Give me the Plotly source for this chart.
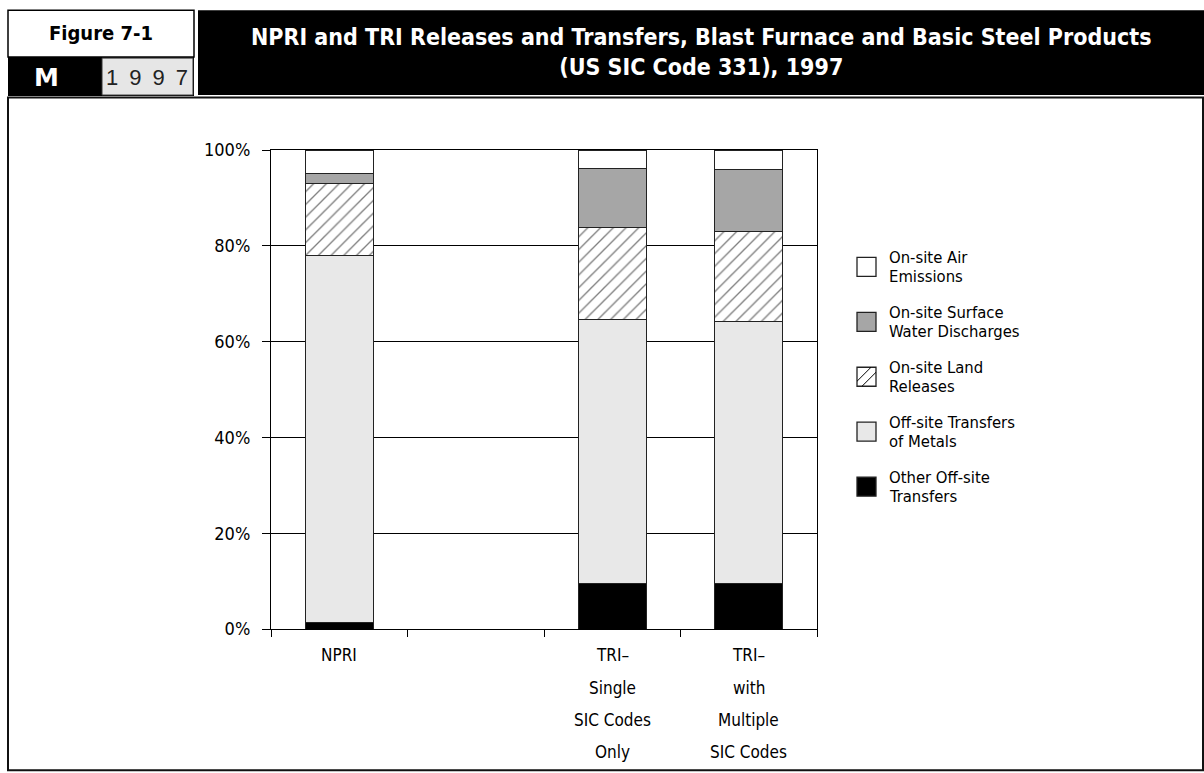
import plotly.graph_objects as go

# ---- data -------------------------------------------------------------
categories = ["NPRI", " ", "TRI-single", "TRI-multiple"]
category_lines = [
    ["NPRI"],
    [],
    ["TRI–", "Single", "SIC Codes", "Only"],
    ["TRI–", "with", "Multiple", "SIC Codes"],
]

# percentage of total releases and transfers, stacked bottom to top
other_offsite = [1.4, None, 9.4, 9.6]
metals_offsite = [76.5, None, 55.3, 54.6]
land_onsite = [15.2, None, 19.2, 18.7]
water_onsite = [2.0, None, 12.3, 13.1]
air_onsite = [4.9, None, 3.8, 4.0]

series_names = [
    "Other Off-site Transfers",
    "Off-site Transfers of Metals",
    "On-site Land Releases",
    "On-site Surface Water Discharges",
    "On-site Air Emissions",
]
legend_lines = [
    ["Other Off-site", "Transfers"],
    ["Off-site Transfers", "of Metals"],
    ["On-site Land", "Releases"],
    ["On-site Surface", "Water Discharges"],
    ["On-site Air", "Emissions"],
]
series_values = [other_offsite, metals_offsite, land_onsite, water_onsite, air_onsite]
series_colors = ["#000000", "#e8e8e8", "#ffffff", "#a6a6a6", "#ffffff"]
series_hatch = [False, False, True, False, False]

y_ticks = [0, 20, 40, 60, 80, 100]
y_tick_labels = ["0%", "20%", "40%", "60%", "80%", "100%"]

# ---- geometry helpers (pixel -> paper) --------------------------------
W, H = 1204, 773
PX_L, PX_R = 271, 817
PY_T, PY_B = 150, 629.5


def px(x):
    return (x - PX_L) / (PX_R - PX_L)


def py(y):
    return (PY_B - y) / (PY_B - PY_T)


NARROW = "DejaVu Sans Condensed, Roboto, sans-serif"

fig = go.Figure()
for name, vals, col, hatch in zip(series_names, series_values, series_colors, series_hatch):
    marker = dict(color=col, line=dict(color="#222222", width=1))
    if hatch:
        marker["pattern"] = dict(shape="/", fgcolor="#000000", bgcolor="#ffffff",
                                 size=9, solidity=0.15)
    fig.add_trace(go.Bar(x=categories, y=vals, name=name, marker=marker,
                         showlegend=False, hoverinfo="skip"))

shapes = []
annotations = []


def rect(x0, y0, x1, y1, fill, line_color=None, lw=1):
    shapes.append(dict(type="rect", xref="paper", yref="paper",
                       x0=px(x0), x1=px(x1), y0=py(y1), y1=py(y0),
                       fillcolor=fill, layer="below",
                       line=dict(color=line_color or fill, width=lw if line_color else 0)))


def text(x, y, s, size, color="#000000", family=NARROW, weight="normal",
         xanchor="center", yanchor="middle"):
    annotations.append(dict(xref="paper", yref="paper", x=px(x), y=py(y), text=s,
                            showarrow=False, xanchor=xanchor, yanchor=yanchor,
                            font=dict(family=family, size=size, color=color, weight=weight)))


# header blocks
rect(8, 10, 194, 57, "#ffffff", "#000000", 1.5)
rect(8, 57, 194, 96, "#000000")
rect(102, 58, 193, 95, "#e6e6e6", "#333333", 1)
rect(198, 10, 1204, 95, "#000000")
# main frame
rect(8, 97.5, 1203, 771, "rgba(0,0,0,0)", "#111111", 2)

text(101, 33, "Figure 7-1", 20, weight="bold")
text(46, 77, "M", 25, color="#ffffff", family="DejaVu Sans", weight="bold")
text(147, 77, "1\u20029\u20029\u20027", 22, color="#222222", family="Liberation Sans")
text(701, 52, "NPRI and TRI Releases and Transfers, Blast Furnace and Basic Steel Products"
     "<br>(US SIC Code 331), 1997", 23, color="#ffffff", weight="bold")

# category labels below the axis, one annotation per line
line_y0, line_dy = 656, 32.3
for cat, lines in zip(categories, category_lines):
    for i, ln in enumerate(lines):
        annotations.append(dict(xref="x", yref="paper", x=cat, y=py(line_y0 + i * line_dy),
                                text=ln, showarrow=False, xanchor="center", yanchor="middle",
                                font=dict(family=NARROW, size=17, color="#000000")))

# legend, top entry first
leg_x0, leg_box, leg_y0, leg_dy = 857, 19, 267, 55
for k, idx in enumerate(reversed(range(len(series_names)))):
    cy = leg_y0 + k * leg_dy
    bx0, by0 = leg_x0, cy - leg_box / 2
    bx1, by1 = leg_x0 + leg_box, cy + leg_box / 2
    shapes.append(dict(type="rect", xref="paper", yref="paper",
                       x0=px(bx0), x1=px(bx1), y0=py(by1), y1=py(by0),
                       fillcolor=series_colors[idx], line=dict(color="#222222", width=1.3)))
    if series_hatch[idx]:
        for (ax, ay, bx, byy) in [(bx0, by0 + 14, bx0 + 14, by0),
                                  (bx0 + 5, by1, bx1, by0 + 5)]:
            shapes.append(dict(type="line", xref="paper", yref="paper",
                               x0=px(ax), y0=py(ay), x1=px(bx), y1=py(byy),
                               line=dict(color="#000000", width=1)))
    for j, ln in enumerate(legend_lines[idx]):
        text(887, cy - 9.5 + j * 19, ln, 16.5, xanchor="left")

fig.update_layout(
    width=W, height=H,
    margin=dict(l=PX_L, r=W - PX_R, t=PY_T, b=H - PY_B, pad=0),
    paper_bgcolor="#ffffff", plot_bgcolor="#ffffff",
    barmode="stack", bargap=0.5,
    showlegend=False,
    shapes=shapes, annotations=annotations,
    xaxis=dict(type="category", categoryorder="array", categoryarray=categories,
               showticklabels=False, tickson="boundaries", ticks="outside",
               ticklen=7, tickcolor="#000000", showline=True, mirror=True,
               linecolor="#000000", linewidth=1.3, showgrid=False, zeroline=False,
               fixedrange=True),
    yaxis=dict(range=[0, 100], tickmode="array", tickvals=y_ticks, ticktext=y_tick_labels,
               ticks="outside", ticklen=8, tickcolor="#000000", showline=True, mirror=True,
               linecolor="#000000", linewidth=1.2, showgrid=True, gridcolor="#000000",
               gridwidth=1, zeroline=False, ticklabelstandoff=8,
               tickfont=dict(family=NARROW, size=18, color="#000000"), fixedrange=True),
)

fig.write_html("out.html")
